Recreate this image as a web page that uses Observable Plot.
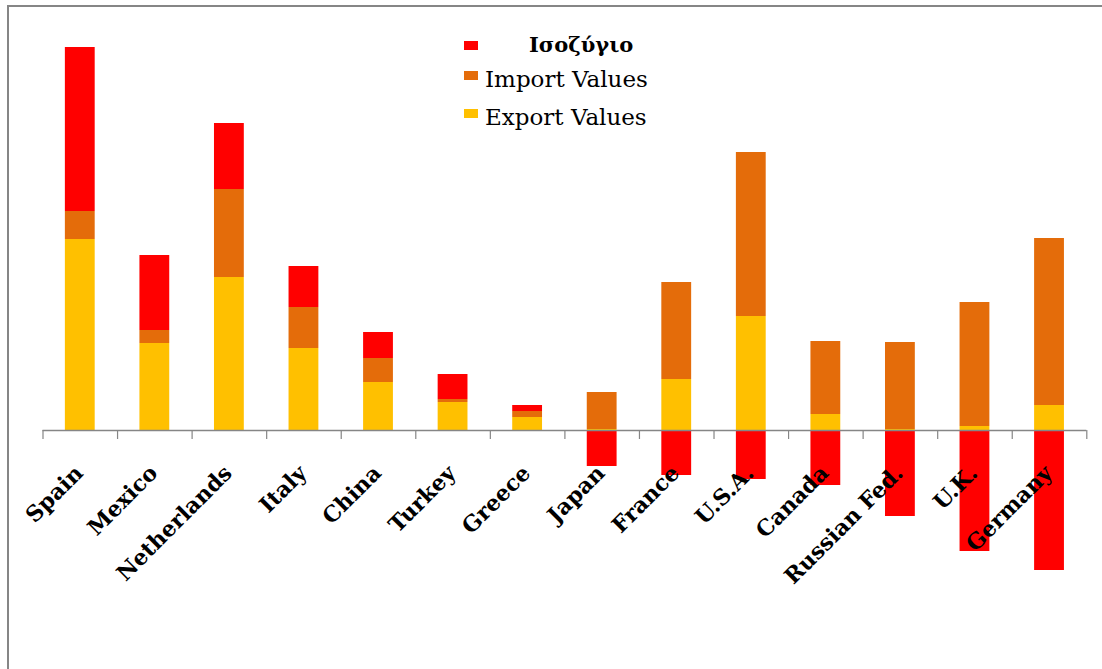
<!DOCTYPE html>
<html><head><meta charset="utf-8">
<script src="https://cdn.jsdelivr.net/npm/d3@7"></script>
<script src="https://cdn.jsdelivr.net/npm/@observablehq/plot@0.6"></script>
<style>
body{margin:0;background:#fff;}
#wrap{position:relative;width:1102px;height:669px;overflow:hidden;background:#fff;}
#frame{position:absolute;left:7px;top:5px;width:1200px;height:800px;border-top:2px solid #868686;border-left:2px solid #868686;pointer-events:none;}
#chart{position:absolute;left:0;top:0;}
#legend{position:absolute;left:0;top:0;}
</style></head><body>
<div id="wrap"><div id="chart"></div><svg id="legend" width="1102" height="140"></svg><div id="frame"></div></div>
<script>
const countries = ["Spain","Mexico","Netherlands","Italy","China","Turkey","Greece","Japan","France","U.S.A.","Canada","Russian Fed.","U.K.","Germany"];
const exportValues  = [191, 87, 153, 82, 48, 28, 13, 1, 51, 114, 16, 1, 4, 25];
const importValues  = [28, 13, 88, 41, 24, 3, 6, 37, 97, 164, 73, 87, 124, 167];
const balanceValues = [164, 75, 66, 41, 26, 25, 6, -36, -45, -49, -55, -86, -121, -140];
const seriesNames = ["Export Values", "Import Values", "Ισοζύγιο"];
const seriesColors = ["#FFC000", "#E46C0A", "#FF0000"];
const legendOrder = ["Ισοζύγιο", "Import Values", "Export Values"];

const seriesValues = [exportValues, importValues, balanceValues];
const rows = [];
seriesNames.forEach((s, k) => countries.forEach((c, i) => rows.push({series: s, country: c, value: seriesValues[k][i]})));

const W = 1102, H = 669, ML = 42.5, MR = 15.7;
const step = (W - ML - MR) / countries.length;

const chart = Plot.plot({
  width: W, height: H,
  marginLeft: ML, marginRight: MR, marginTop: 0, marginBottom: 0,
  style: {background: "transparent"},
  x: {domain: countries, paddingInner: 0.6, paddingOuter: 0.3, round: false, axis: null},
  y: {domain: [-239, 430], axis: null},
  color: {domain: seriesNames, range: seriesColors},
  marks: [
    Plot.barY(rows, {x: "country", y: "value", fill: "series", order: null}),
    Plot.ruleY([0], {stroke: "#868686", strokeWidth: 1.5}),
    Plot.ruleX(countries, {x: d => d, y1: 0, y2: -9, dx: -step / 2, stroke: "#868686", strokeWidth: 1.2}),
    Plot.ruleX([countries[countries.length - 1]], {x: d => d, y1: 0, y2: -9, dx: step / 2, stroke: "#868686", strokeWidth: 1.2}),
    Plot.text(countries, {x: d => d, y: 0, text: d => d, rotate: -45, textAnchor: "end", lineAnchor: "middle",
      dy: 39, dx: -1, fontFamily: "DejaVu Serif", fontWeight: "bold", fontSize: 22, fill: "#000"})
  ]
});
document.getElementById("chart").appendChild(chart);

// legend
const leg = d3.select("#legend");
const legPos = [{kx: 464, ky: 41, tx: 529, ty: 52, bold: true, fs: 21}, {kx: 464, ky: 71, tx: 485, ty: 87, bold: false, fs: 23}, {kx: 464, ky: 109, tx: 485, ty: 125, bold: false, fs: 23}];
legendOrder.forEach((name, i) => {
  const p = legPos[i];
  leg.append("rect").attr("x", p.kx).attr("y", p.ky).attr("width", 14).attr("height", 9)
    .attr("fill", seriesColors[seriesNames.indexOf(name)]);
  leg.append("text").attr("x", p.tx).attr("y", p.ty).attr("font-family", "DejaVu Serif")
    .attr("font-size", p.fs).attr("font-weight", p.bold ? "bold" : "normal").attr("fill", "#000").text(name);
});
</script>
</body></html>
